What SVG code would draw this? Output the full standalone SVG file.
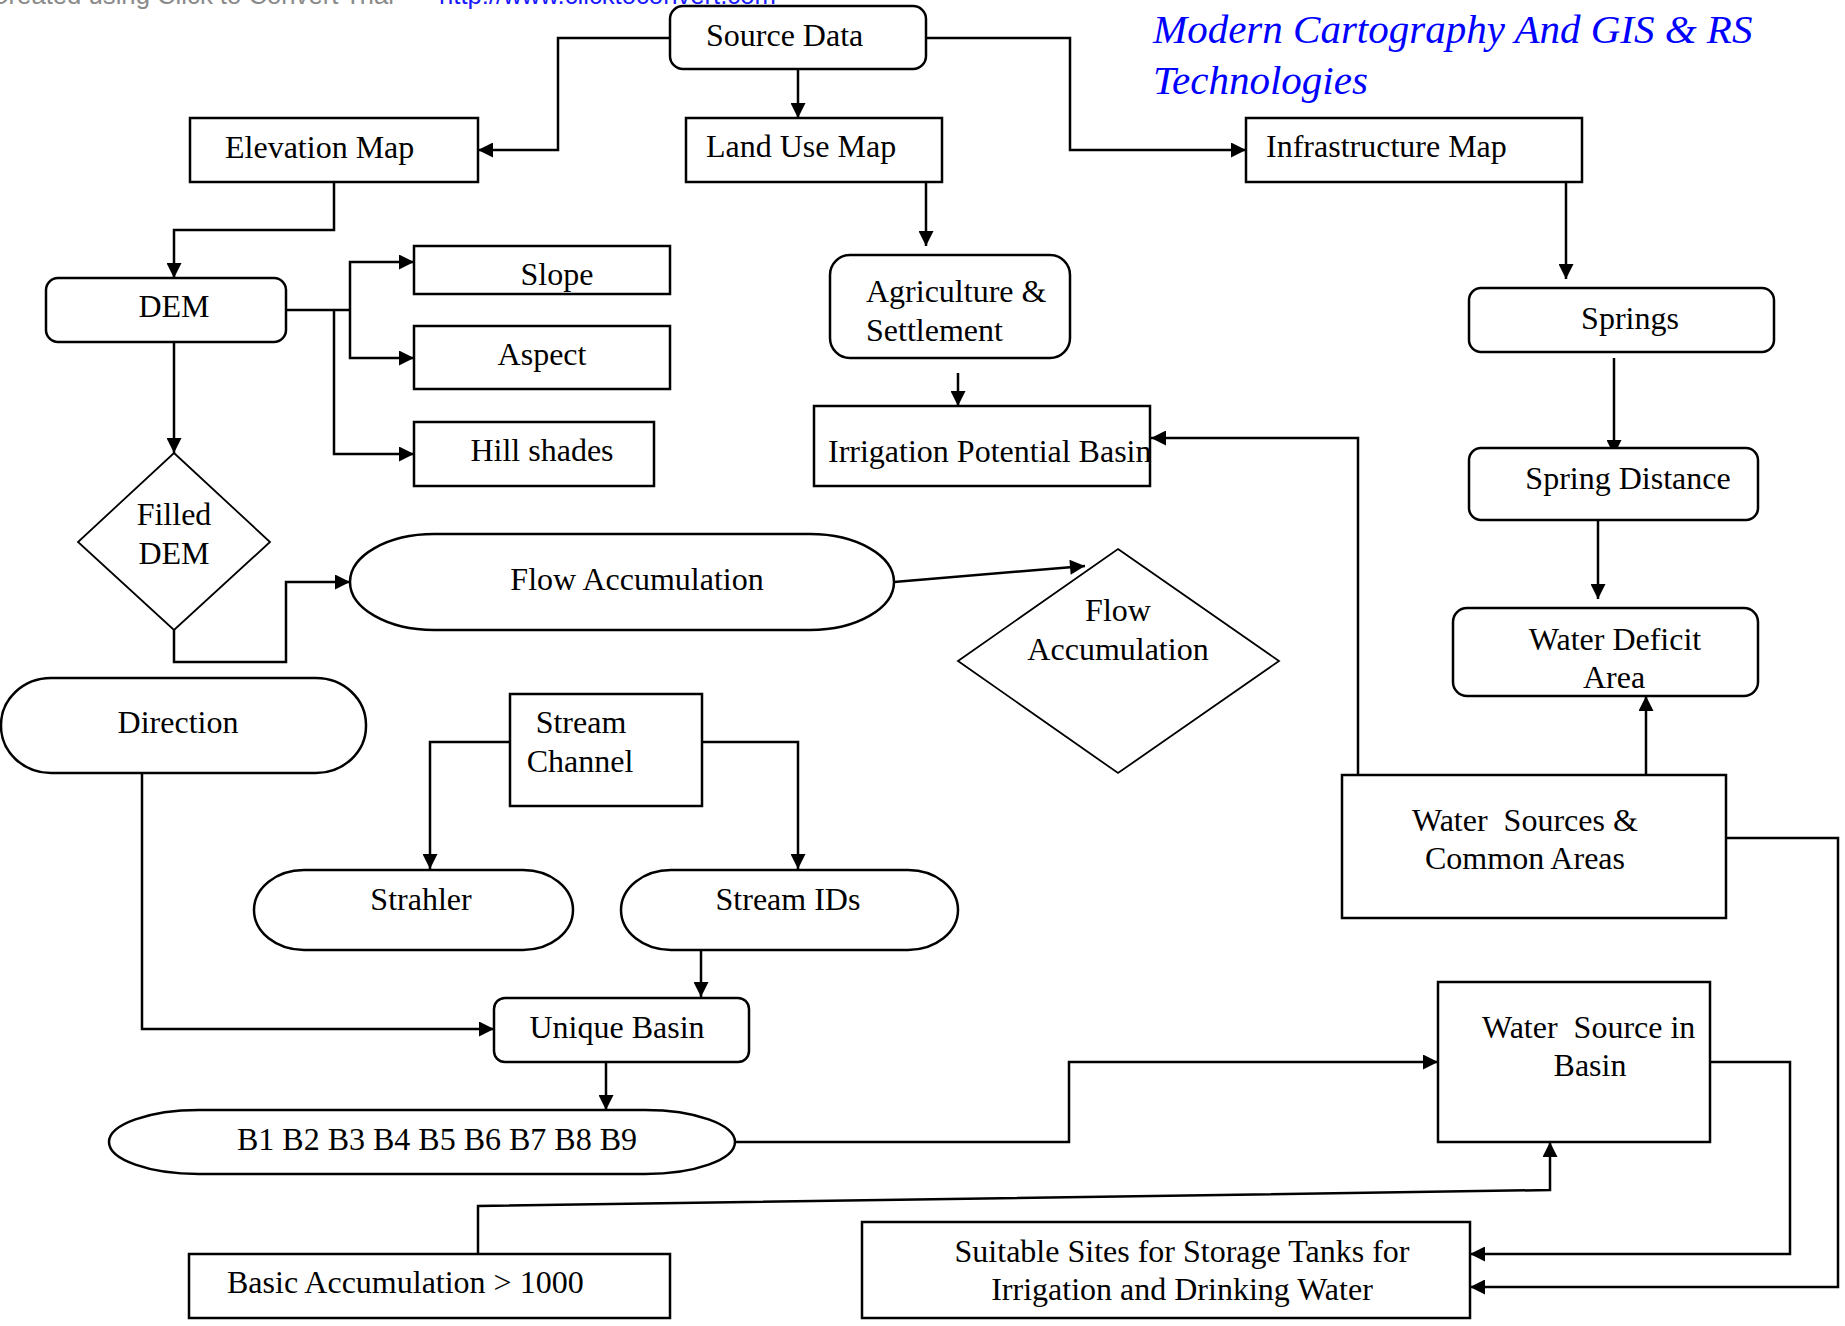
<svg xmlns="http://www.w3.org/2000/svg" width="1845" height="1326" viewBox="0 0 1845 1326">
<style>
.n{fill:#fff;stroke:#000;stroke-width:2.5}
.d{fill:#fff;stroke:#000;stroke-width:1.8}
.t{font-family:"Liberation Serif","Times New Roman",serif;font-size:32px;fill:#000}
.m{text-anchor:middle}
.c{fill:none;stroke:#000;stroke-width:2.5}
.a{marker-end:url(#ah)}
.title{font-family:"Liberation Serif","Times New Roman",serif;font-style:italic;font-size:41px;fill:#0000ff}
.hdr{font-family:"Liberation Sans",Arial,sans-serif;font-size:25.7px}
</style>
<defs>
<marker id="ah" viewBox="0 0 16 16" refX="16" refY="8" markerWidth="16" markerHeight="15" markerUnits="userSpaceOnUse" orient="auto">
<path d="M0,0 L16,8 L0,16 z" fill="#000"/>
</marker>
</defs>
<rect width="1845" height="1326" fill="#fff"/>
<text class="hdr" x="-10" y="4" fill="#8a8a8a">Created using Click to Convert Trial -</text>
<text class="hdr" x="439" y="4" fill="#1a1aff">http://www.clicktoconvert.com</text>
<text class="title" x="1153" y="43">Modern Cartography And GIS &amp; RS</text>
<text class="title" x="1153" y="94">Technologies</text>

<g id="connectors">
<path class="c a" d="M670,38 H558 V150 H478"/>
<path class="c a" d="M798,69 V118"/>
<path class="c a" d="M926,38 H1070 V150 H1246"/>
<path class="c a" d="M334,182 V230 H174 V278"/>
<path class="c" d="M286,310 H350"/>
<path class="c a" d="M350,310 V262 H414"/>
<path class="c a" d="M350,310 V358 H414"/>
<path class="c a" d="M334,310 V454 H414"/>
<path class="c a" d="M174,342 V453"/>
<path class="c a" d="M174,630 V662 H286 V582 H350"/>
<path class="c a" d="M894,582 L1085,566"/>
<path class="c a" d="M926,182 V246"/>
<path class="c a" d="M958,373 V406"/>
<path class="c a" d="M1566,182 V279"/>
<path class="c a" d="M1614,358 V455"/>
<path class="c a" d="M1598,520 V599"/>
<path class="c a" d="M1646,775 V696"/>
<path class="c a" d="M1358,775 V438 H1151"/>
<path class="c a" d="M510,742 H430 V869"/>
<path class="c a" d="M702,742 H798 V869"/>
<path class="c a" d="M701,950 V997"/>
<path class="c a" d="M142,773 V1029 H494"/>
<path class="c a" d="M606,1062 V1110"/>
<path class="c a" d="M735,1142 H1069 V1062 H1438"/>
<path class="c a" d="M478,1254 V1206 L1550,1190 V1142"/>
<path class="c a" d="M1710,1062 H1790 V1254 H1470"/>
<path class="c a" d="M1726,838 H1838 V1287 H1470"/>
</g>

<g id="source-data"><rect class="n" x="670" y="6" width="256" height="63" rx="13"/><text class="t" x="706" y="46">Source Data</text></g>
<g id="elevation-map"><rect class="n" x="190" y="118" width="288" height="64"/><text class="t" x="225" y="158">Elevation Map</text></g>
<g id="land-use-map"><rect class="n" x="686" y="118" width="256" height="64"/><text class="t" x="706" y="157">Land Use Map</text></g>
<g id="infrastructure-map"><rect class="n" x="1246" y="118" width="336" height="64"/><text class="t" x="1266" y="157">Infrastructure Map</text></g>
<g id="dem"><rect class="n" x="46" y="278" width="240" height="64" rx="12"/><text class="t m" x="174" y="317">DEM</text></g>
<g id="slope"><rect class="n" x="414" y="246" width="256" height="48"/><text class="t m" x="557" y="285">Slope</text></g>
<g id="aspect"><rect class="n" x="414" y="326" width="256" height="63"/><text class="t m" x="542" y="365">Aspect</text></g>
<g id="hill-shades"><rect class="n" x="414" y="422" width="240" height="64"/><text class="t m" x="542" y="461">Hill shades</text></g>
<g id="agriculture-settlement"><rect class="n" x="830" y="255" width="240" height="103" rx="20"/><text class="t" x="866" y="302">Agriculture &amp;</text><text class="t" x="866" y="341">Settlement</text></g>
<g id="irrigation-potential-basin"><rect class="n" x="814" y="406" width="336" height="80"/><text class="t" x="828" y="462">Irrigation Potential Basin</text></g>
<g id="springs"><rect class="n" x="1469" y="288" width="305" height="64" rx="12"/><text class="t m" x="1630" y="329">Springs</text></g>
<g id="spring-distance"><rect class="n" x="1469" y="448" width="289" height="72" rx="12"/><text class="t m" x="1628" y="489">Spring Distance</text></g>
<g id="water-deficit-area"><rect class="n" x="1453" y="608" width="305" height="88" rx="14"/><text class="t m" x="1615" y="650">Water Deficit</text><text class="t m" x="1614" y="688">Area</text></g>
<g id="filled-dem"><polygon class="d" points="174,453 270,542 174,630 78,542"/><text class="t m" x="174" y="525">Filled</text><text class="t m" x="174" y="564">DEM</text></g>
<g id="flow-accumulation"><rect class="n" x="350" y="534" width="544" height="96" rx="84" ry="48"/><text class="t m" x="637" y="590">Flow Accumulation</text></g>
<g id="flow-accumulation-decision"><polygon class="d" points="1118,549 1279,661 1118,773 958,661"/><text class="t m" x="1118" y="621">Flow</text><text class="t m" x="1118" y="660">Accumulation</text></g>
<g id="direction"><rect class="n" x="1" y="678" width="365" height="95" rx="50" ry="47"/><text class="t m" x="178" y="733">Direction</text></g>
<g id="stream-channel"><rect class="n" x="510" y="694" width="192" height="112"/><text class="t m" x="581" y="733">Stream</text><text class="t m" x="580" y="772">Channel</text></g>
<g id="strahler"><rect class="n" x="254" y="870" width="319" height="80" rx="50" ry="40"/><text class="t m" x="421" y="910">Strahler</text></g>
<g id="stream-ids"><rect class="n" x="621" y="870" width="337" height="80" rx="50" ry="40"/><text class="t m" x="788" y="910">Stream IDs</text></g>
<g id="unique-basin"><rect class="n" x="494" y="998" width="255" height="64" rx="11"/><text class="t m" x="617" y="1038">Unique Basin</text></g>
<g id="basins"><rect class="n" x="109" y="1110" width="626" height="64" rx="90" ry="32"/><text class="t m" x="437" y="1150">B1 B2 B3 B4 B5 B6 B7 B8 B9</text></g>
<g id="water-sources-common-areas"><rect class="n" x="1342" y="775" width="384" height="143"/><text class="t" x="1412" y="831" xml:space="preserve">Water  Sources &amp;</text><text class="t" x="1425" y="869">Common Areas</text></g>
<g id="water-source-in-basin"><rect class="n" x="1438" y="982" width="272" height="160"/><text class="t" x="1482" y="1038" xml:space="preserve">Water  Source in</text><text class="t m" x="1590" y="1076">Basin</text></g>
<g id="basic-accumulation"><rect class="n" x="189" y="1254" width="481" height="64"/><text class="t" x="227" y="1293">Basic Accumulation &gt; 1000</text></g>
<g id="suitable-sites"><rect class="n" x="862" y="1222" width="608" height="96"/><text class="t m" x="1182" y="1262">Suitable Sites for Storage Tanks for</text><text class="t m" x="1182" y="1300">Irrigation and Drinking Water</text></g>
</svg>
